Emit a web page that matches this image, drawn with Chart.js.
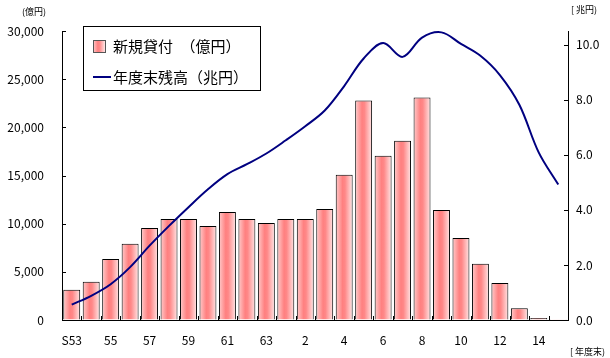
<!DOCTYPE html>
<html>
<head>
<meta charset="utf-8">
<script src="https://cdn.jsdelivr.net/npm/chart.js@4.4.0/dist/chart.umd.min.js"></script>
<style>
	body { margin: 0; background: #fff; }
	#wrap { width: 610px; height: 358px; }
</style>
</head>
<body>
<div id="wrap"><canvas id="chart" width="610" height="358"></canvas></div>
<script>
// 年度 (S53 ～ H15)
var anni = ["S53", "54", "55", "56", "57", "58", "59", "60", "61", "62", "63", "H1", "2", "3", "4", "5", "6", "7", "8", "9", "10", "11", "12", "13", "14", "15"];
// 新規貸付（億円）
var prestiti = [3130, 3960, 6320, 7920, 9550, 10490, 10490, 9760, 11210, 10490, 10070, 10490, 10490, 11530, 15070, 22780, 17050, 18610, 23090, 11420, 8510, 5830, 3850, 1215, 200, 80];
// 年度末残高（兆円）
var residuo = [0.56, 0.88, 1.3, 1.92, 2.7, 3.42, 4.1, 4.75, 5.3, 5.66, 6.05, 6.53, 7.04, 7.61, 8.5, 9.5, 10.06, 9.56, 10.26, 10.45, 10.03, 9.6, 8.9, 7.82, 6.08, 4.92];
var etichette = ["新規貸付　（億円）", "年度末残高（兆円）"];

var jp = "'Noto Sans CJK JP', 'Liberation Sans', sans-serif";
Chart.defaults.color = "#000";
Chart.defaults.font.family = jp;

function sfumatura(ctx, x0, x1) {
	var g = ctx.createLinearGradient(x0, 0, x1, 0);
	g.addColorStop(0, "#ffcccc");
	g.addColorStop(0.4, "#ff8080");
	g.addColorStop(0.55, "#ff8888");
	g.addColorStop(1, "#ffe6e6");
	return g;
}

function coloreBarra(c) {
	var chart = c.chart;
	var x = chart.scales.x;
	if (!x || !chart.chartArea) return "#ff9999";
	var w = (x.right - x.left) / anni.length * 0.87;
	var cx = x.getPixelForValue(c.dataIndex);
	return sfumatura(chart.ctx, cx - w / 2, cx + w / 2);
}

// tacche interne + legenda + unità
var decorazioni = {
	id: "decorazioni",
	afterDraw: function (chart) {
		var ctx = chart.ctx;
		var a = chart.chartArea;
		var y = chart.scales.y, y1 = chart.scales.y1, x = chart.scales.x;
		ctx.save();
		ctx.strokeStyle = "#000";
		ctx.lineWidth = 1;
		ctx.beginPath();
		y.ticks.forEach(function (t) {
			var p = Math.round(y.getPixelForValue(t.value)) + 0.5;
			ctx.moveTo(a.left, p);
			ctx.lineTo(a.left + 4, p);
		});
		y1.ticks.forEach(function (t) {
			var p = Math.round(y1.getPixelForValue(t.value)) + 0.5;
			ctx.moveTo(a.right - 4, p);
			ctx.lineTo(a.right, p);
		});
		var passo = (x.right - x.left) / anni.length;
		for (var i = 1; i < anni.length; i++) {
			var px = Math.round(x.left + i * passo) + 0.5;
			ctx.moveTo(px, a.bottom);
			ctx.lineTo(px, a.bottom - 4);
		}
		ctx.stroke();

		// legenda
		ctx.fillStyle = "#fff";
		ctx.fillRect(83, 26, 177, 64);
		ctx.strokeRect(83.5, 26.5, 177, 64);
		ctx.fillStyle = sfumatura(ctx, 93, 105);
		ctx.fillRect(93, 40, 12, 12);
		ctx.strokeStyle = "#555";
		ctx.strokeRect(93.5, 40.5, 12, 12);
		ctx.strokeStyle = "#000080";
		ctx.lineWidth = 2;
		ctx.beginPath();
		ctx.moveTo(93, 77);
		ctx.lineTo(111, 77);
		ctx.stroke();
		ctx.fillStyle = "#000";
		ctx.font = "15px " + jp;
		ctx.textBaseline = "middle";
		ctx.textAlign = "left";
		ctx.fillText(etichette[0], 113, 46);
		ctx.fillText(etichette[1], 113, 77);

		// unità
		ctx.font = "9px " + jp;
		ctx.fillText("(億円)", 22, 12);
		ctx.fillText("[ 兆円)", 571, 10);
		ctx.fillText("[ 年度末)", 570, 352);
		ctx.restore();
	},
};

var grafico = new Chart(document.getElementById("chart"), {
	type: "bar",
	data: {
		labels: anni,
		datasets: [
			{
				type: "line",
				label: etichette[1],
				data: residuo,
				yAxisID: "y1",
				borderColor: "#000080",
				borderWidth: 2,
				pointRadius: 0,
				tension: 0.35,
				order: 0,
			},
			{
				label: etichette[0],
				data: prestiti,
				yAxisID: "y",
				backgroundColor: coloreBarra,
				borderColor: "#000",
				borderWidth: 1,
				barPercentage: 0.87,
				categoryPercentage: 1,
				order: 1,
			},
		],
	},
	options: {
		responsive: false,
		animation: false,
		layout: { padding: { top: 31, left: 0, right: 0, bottom: 0 } },
		plugins: {
			legend: { display: false },
			tooltip: { enabled: false },
		},
		scales: {
			x: {
				grid: { display: true, drawOnChartArea: false, drawTicks: false },
				border: { display: true, color: "#000", width: 1 },
				ticks: {
					autoSkip: false,
					maxRotation: 0,
					padding: 13,
					font: { size: 12 },
					callback: function (v, i) {
						return i % 2 === 0 ? anni[i] : "";
					},
				},
				afterFit: function (s) {
					s.height = 38;
				},
			},
			y: {
				position: "left",
				min: 0,
				max: 30000,
				grid: { display: true, drawOnChartArea: false, drawTicks: false },
				border: { display: true, color: "#000", width: 1 },
				ticks: {
					stepSize: 5000,
					padding: 18,
					font: { size: 12 },
					callback: function (v) {
						return v.toLocaleString("en-US");
					},
				},
				afterFit: function (s) {
					s.width = 62;
				},
			},
			y1: {
				position: "right",
				min: 0,
				max: 10.5,
				grid: { display: true, drawOnChartArea: false, drawTicks: false },
				border: { display: true, color: "#000", width: 1 },
				ticks: {
					stepSize: 2,
					padding: 8,
					font: { size: 12 },
					callback: function (v) {
						return v.toFixed(1);
					},
				},
				afterBuildTicks: function (s) {
					s.ticks = s.ticks.filter(function (t) {
						return t.value % 2 === 0;
					});
				},
				afterFit: function (s) {
					s.width = 42;
				},
			},
		},
	},
	plugins: [decorazioni],
});
</script>
</body>
</html>
